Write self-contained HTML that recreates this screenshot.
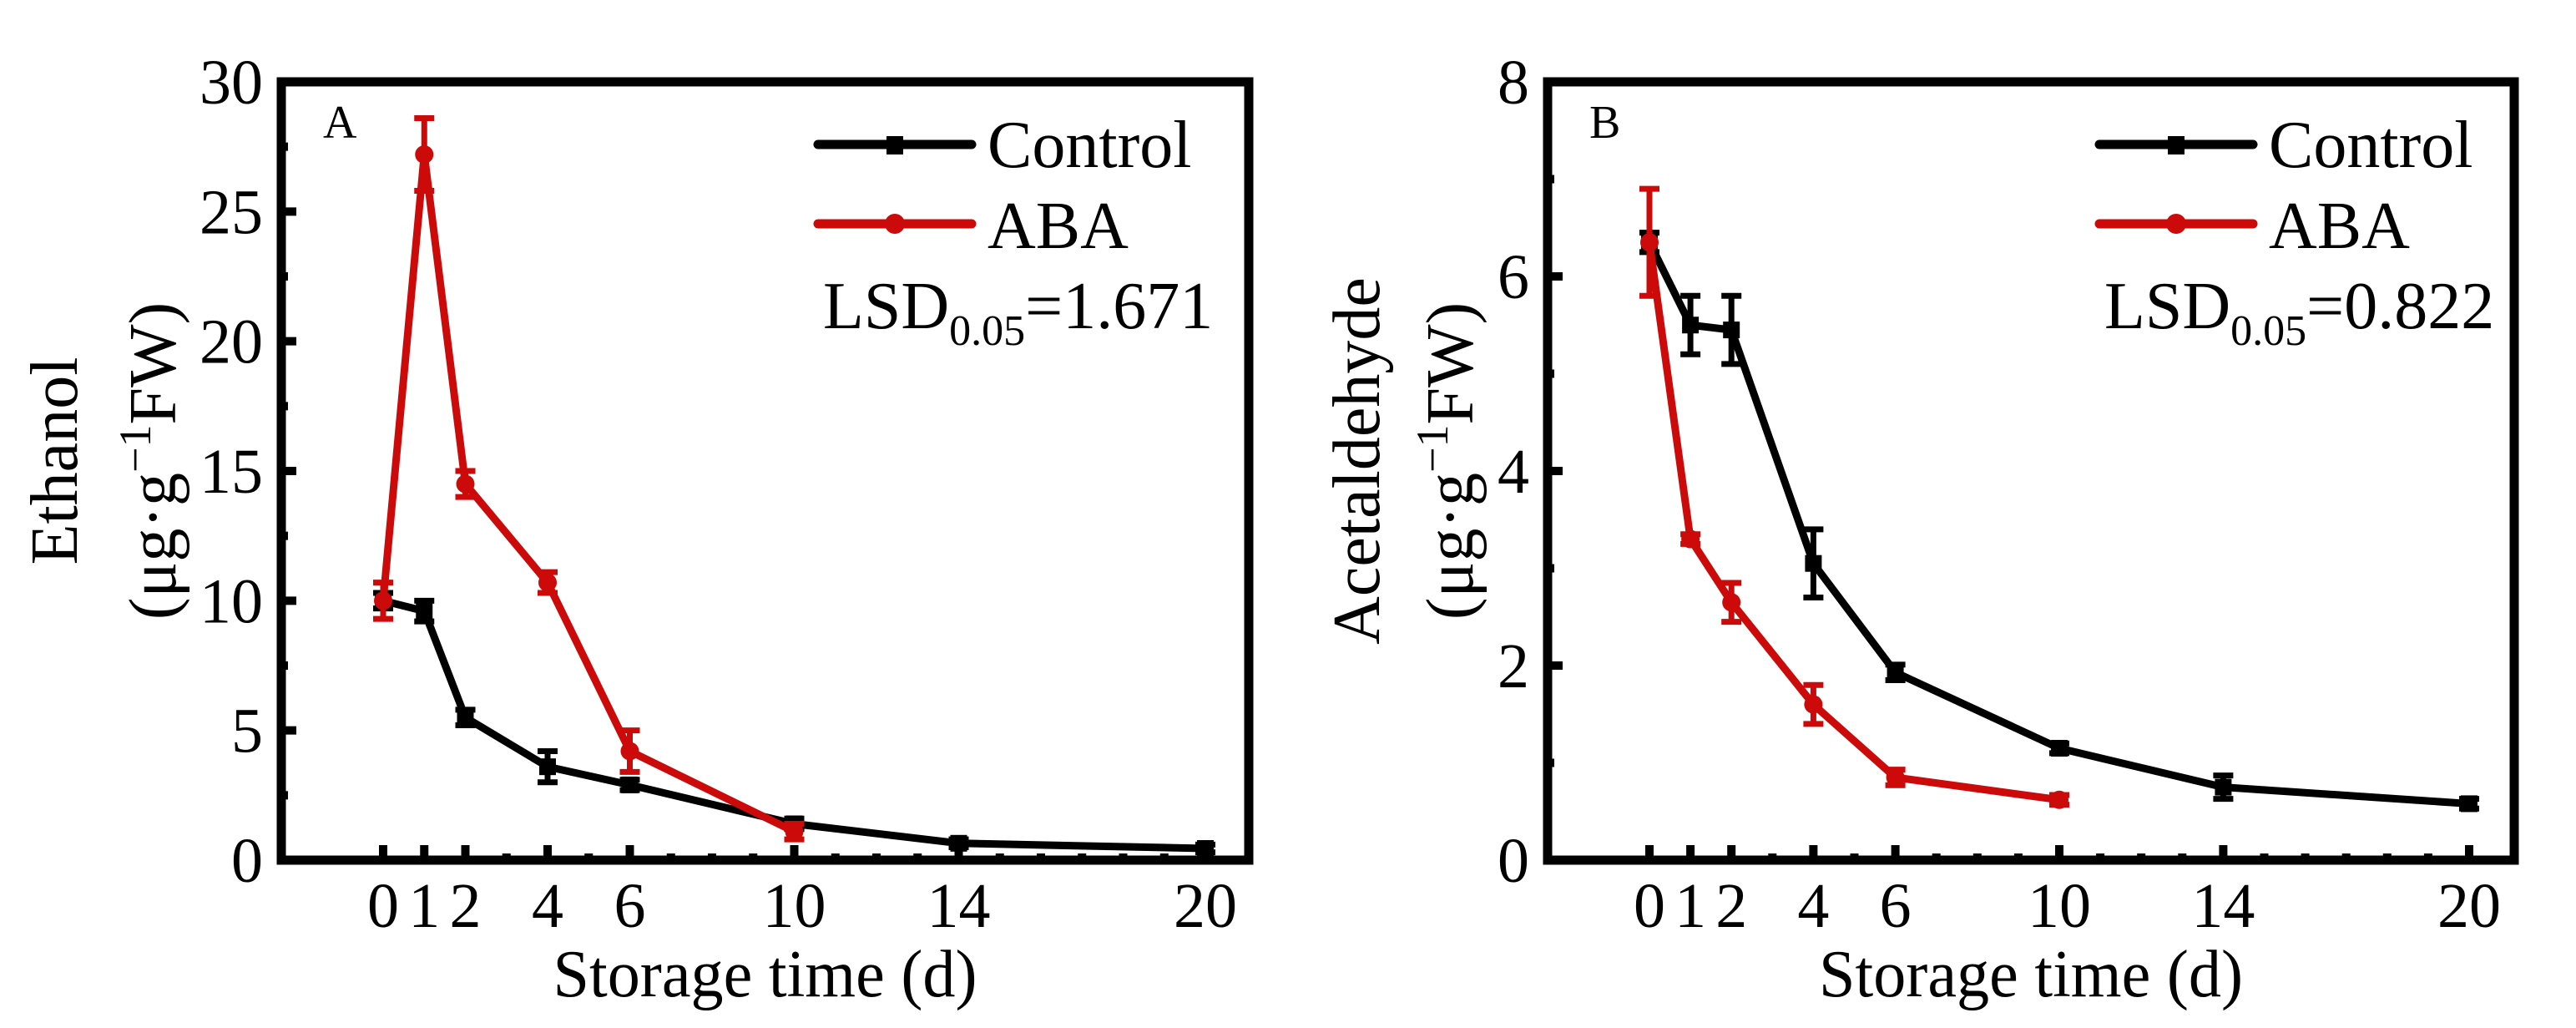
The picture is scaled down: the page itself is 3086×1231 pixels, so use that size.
<!DOCTYPE html>
<html><head><meta charset="utf-8"><style>
html,body{margin:0;padding:0;background:#fff;}
svg{display:block;font-family:"Liberation Serif",serif;}
</style></head><body>
<svg id="fig" width="3086" height="1231" viewBox="0 0 3086 1231" xmlns="http://www.w3.org/2000/svg"></svg>
<script>
const days = [0, 1, 2, 4, 6, 10, 14, 20];
const daysABA = [0, 1, 2, 4, 6, 10];
const xTickLabels = ["0","1","2","4","6","10","14","20"];
const ethanolControl = [10.0, 9.6, 5.5, 3.6, 2.9, 1.4, 0.65, 0.45];
const ethanolControlErr = [0.3, 0.4, 0.3, 0.6, 0.2, 0.2, 0.15, 0.15];
const ethanolABA = [10.0, 27.2, 14.5, 10.7, 4.2, 1.1];
const ethanolABAErr = [0.7, 1.4, 0.5, 0.4, 0.8, 0.3];
const ethanolYTicks = [0, 5, 10, 15, 20, 25, 30];
const acetControl = [6.35, 5.5, 5.45, 3.05, 1.93, 1.15, 0.75, 0.58];
const acetControlErr = [0.1, 0.3, 0.35, 0.35, 0.08, 0.05, 0.12, 0.05];
const acetABA = [6.35, 3.3, 2.65, 1.6, 0.85, 0.62];
const acetABAErr = [0.55, 0.05, 0.2, 0.2, 0.08, 0.05];
const acetYTicks = [0, 2, 4, 6, 8];

const NS = "http://www.w3.org/2000/svg";
const svg = document.getElementById("fig");
const RED = "#cc0a0a";
function mk(tag, attrs, parent, text) {
  const e = document.createElementNS(NS, tag);
  for (const k in attrs) e.setAttribute(k, attrs[k]);
  if (text !== undefined) e.textContent = text;
  (parent || svg).appendChild(e);
  return e;
}

function panel(cfg) {
  const g = mk("g", {});
  
  
  const L = cfg.left, R = cfg.right, T = 98, B = 1030;
  const xs = d => cfg.x0 + d * cfg.dx;
  const ys = v => B - (v / cfg.ymax) * (B - T);
  // ticks
  const tg = mk("g", {stroke: "#000", "stroke-width": 10}, g);
  
  
  for (let d = 0; d <= 20; d++) {
    const major = days.includes(d);
    mk("line", {x1: xs(d), x2: xs(d), y1: B, y2: B - (major ? 18 : 8)}, tg);
  }
  const step = cfg.yTicks[1] - cfg.yTicks[0];
  for (let v = 0; v <= cfg.ymax + 1e-9; v += step / 2) {
    const major = Math.abs(v / step - Math.round(v / step)) < 1e-6;
    mk("line", {x1: L, x2: L + (major ? 18 : 8), y1: ys(v), y2: ys(v)}, tg);
  }
  // frame
  const fr = mk("rect", {x: L, y: T, width: R - L, height: B - T, fill: "none", stroke: "#000", "stroke-width": 11}, g);
  
  
  // y tick labels
  cfg.yTicks.forEach(v => {
    const t = mk("text", {x: L - 22, y: ys(v) + 26, "font-size": 76, "text-anchor": "end"}, g, String(v));
    
    
  });
  days.forEach((d, i) => {
    const t = mk("text", {x: xs(d), y: 1110, "font-size": 76, "text-anchor": "middle"}, g, xTickLabels[i]);
    
    
  });
  // axis titles
  const xt = mk("text", {x: (L + R) / 2 + 0, y: 1193, "font-size": 80, "text-anchor": "middle", textLength: 508, lengthAdjust: "spacingAndGlyphs"}, g, "Storage time (d)");
  
  
  const yt1 = mk("text", {x: 0, y: 0, "font-size": 80, "text-anchor": "middle", transform: `translate(${cfg.yt1x},552) rotate(-90)`}, g, cfg.ytitle);
  
  
  const yt2 = mk("text", {x: 0, y: 0, "font-size": 80, "text-anchor": "middle", transform: `translate(${cfg.yt2x},552) rotate(-90)`}, g);
  
  
  mk("tspan", {}, yt2, "(μg·g");
  mk("tspan", {dy: -30, "font-size": 54}, yt2, "−1");
  mk("tspan", {dy: 30}, yt2, "FW)");
  // panel letter
  const pl = mk("text", {x: L + 50, y: 165, "font-size": 56}, g, cfg.letter);
  
  
  // series
  function series(xd, vals, errs, color, marker, nm) {
    const sg = mk("g", {}, g);
    
    
    const pts = xd.map((d, i) => xs(d) + "," + ys(vals[i])).join(" ");
    mk("polyline", {points: pts, fill: "none", stroke: color, "stroke-width": 9, "stroke-linejoin": "round"}, sg);
    xd.forEach((d, i) => {
      const x = xs(d), y1 = ys(vals[i] + errs[i]), y2 = ys(vals[i] - errs[i]);
      const eb = mk("path", {d: `M${x},${y1}V${y2}M${x - 12},${y1}H${x + 12}M${x - 12},${y2}H${x + 12}`, stroke: color, "stroke-width": 7, fill: "none"}, sg);
      
      
      let m;
      if (marker === "sq") m = mk("rect", {x: x - 10, y: ys(vals[i]) - 10, width: 20, height: 20, fill: color}, sg);
      else m = mk("circle", {cx: x, cy: ys(vals[i]), r: 11, fill: color}, sg);
      
      
    });
  }
  series(days, cfg.ctrl, cfg.ctrlErr, "#000", "sq", "series-control");
  series(daysABA, cfg.aba, cfg.abaErr, RED, "ci", "series-aba");
  // legend
  const lg = mk("g", {}, g);
  
  
  const lx = cfg.legX;
  mk("line", {x1: lx, x2: lx + 184, y1: 173, y2: 173, stroke: "#000", "stroke-width": 11, "stroke-linecap": "round"}, lg);
  mk("rect", {x: lx + 82, y: 163, width: 20, height: 22, fill: "#000"}, lg);
  const lt1 = mk("text", {x: lx + 203, y: 200, "font-size": 80}, lg, "Control");
  
  
  mk("line", {x1: lx, x2: lx + 184, y1: 268, y2: 268, stroke: RED, "stroke-width": 11, "stroke-linecap": "round"}, lg);
  mk("circle", {cx: lx + 92, cy: 268, r: 12, fill: RED}, lg);
  const lt2 = mk("text", {x: lx + 203, y: 297, "font-size": 80}, lg, "ABA");
  
  
  const ls = mk("text", {x: lx + 6, y: 393, "font-size": 80}, g);
  
  
  mk("tspan", {}, ls, "LSD");
  mk("tspan", {dy: 20, "font-size": 52}, ls, "0.05");
  mk("tspan", {dy: -20}, ls, "=" + cfg.lsd);
}

panel({name: "panel-a-ethanol", left: 337, right: 1496, x0: 459, dx: 49.25, ymax: 30, yTicks: ethanolYTicks,
  ytitle: "Ethanol", yt1x: 92, yt2x: 210, letter: "A", legX: 980, lsd: "1.671",
  ctrl: ethanolControl, ctrlErr: ethanolControlErr, aba: ethanolABA, abaErr: ethanolABAErr});
panel({name: "panel-b-acetaldehyde", left: 1854, right: 3012, x0: 1976, dx: 49.1, ymax: 8, yTicks: acetYTicks,
  ytitle: "Acetaldehyde", yt1x: 1652, yt2x: 1764, letter: "B", legX: 2515, lsd: "0.822",
  ctrl: acetControl, ctrlErr: acetControlErr, aba: acetABA, abaErr: acetABAErr});
</script>
</body></html>
